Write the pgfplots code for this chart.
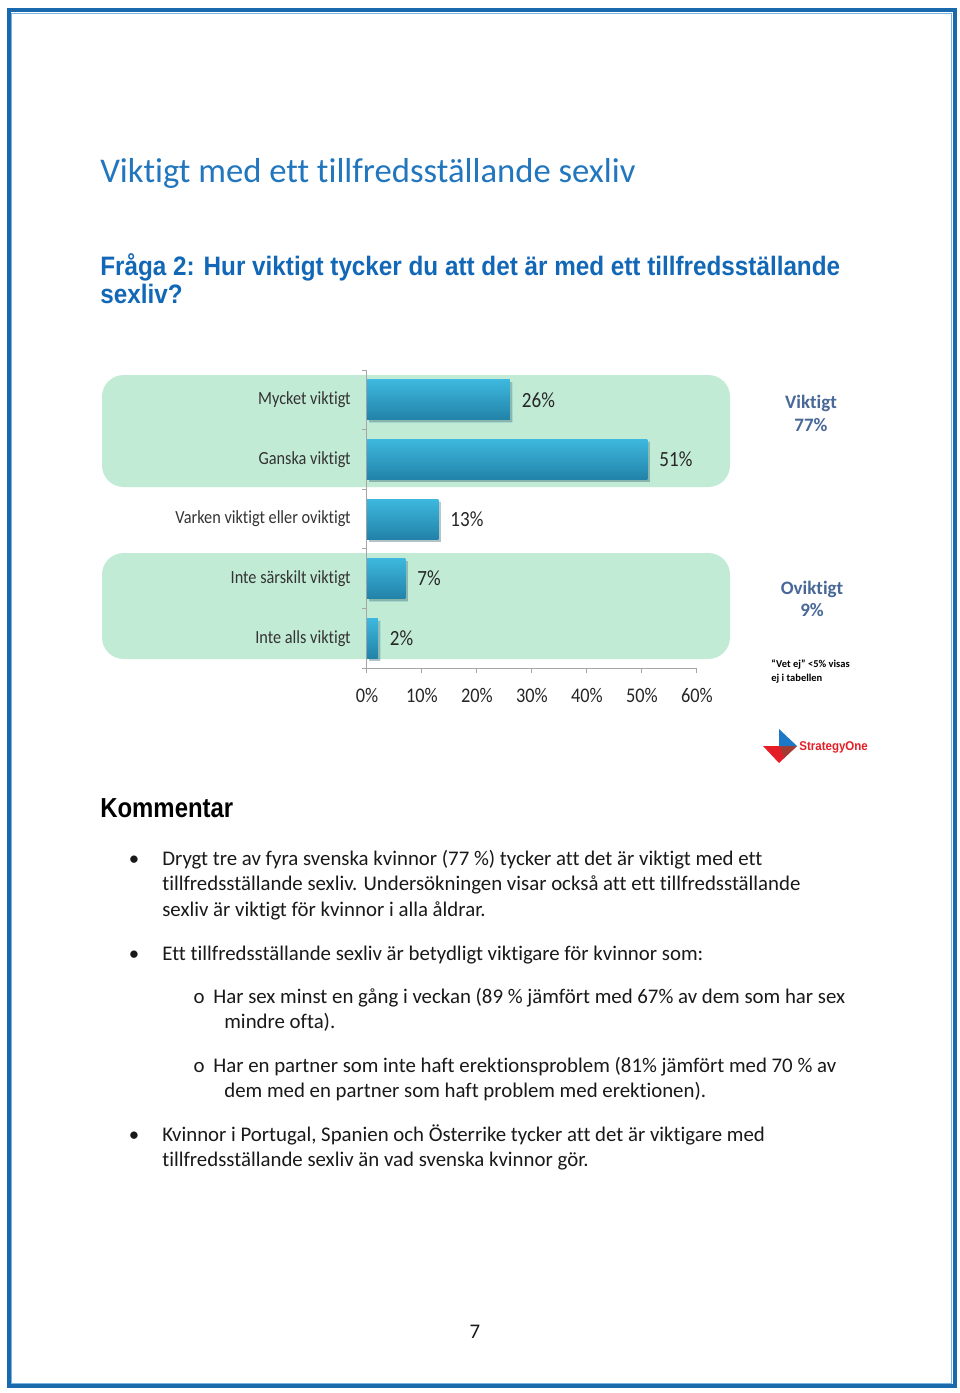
\documentclass[border=0pt]{standalone}
\usepackage{fontspec}
\setmainfont{Carlito}[Ligatures=NoCommon]
\newfontfamily\arialn[FakeStretch=0.91]{Liberation Sans}
\newfontfamily\arialk[FakeStretch=0.87]{Liberation Sans}
\newfontfamily\carn[FakeStretch=0.88,Ligatures=NoCommon]{Carlito}
\usepackage{pgfplots}
\usepackage{pgfplotstable}
\pgfplotsset{compat=1.18}
\definecolor{frame}{RGB}{24,106,172}
\definecolor{framelight}{RGB}{120,180,225}
\definecolor{titleblue}{RGB}{33,118,189}
\definecolor{qblue}{RGB}{18,104,182}
\definecolor{mint}{RGB}{194,235,214}
\definecolor{bartop}{RGB}{62,184,222}
\definecolor{barbot}{RGB}{34,130,168}
\definecolor{slate}{RGB}{72,104,152}
\definecolor{axgray}{RGB}{166,166,166}
\definecolor{logored}{RGB}{228,30,38}
\definecolor{logoblue}{RGB}{30,120,200}
\definecolor{logobrown}{RGB}{160,60,50}
\definecolor{bodytext}{RGB}{25,25,25}

\begin{document}
\begin{tikzpicture}
\begin{scope}[x=0.6pt,y=-0.6pt]
\fill[white] (0,0) rectangle (960,1393);
\draw[frame, line width=2.4pt] (8.5,10) rectangle (954.5,1386);
\draw[framelight, line width=0.6pt] (11.5,13) rectangle (951.5,1383);
% titles
\node[anchor=base west, inner sep=0, text=titleblue] at (100,182)
  {\fontsize{20.8}{24}\selectfont Viktigt med ett tillfredsställande sexliv};
\node[anchor=base west, inner sep=0, text=qblue] at (100,275)
  {\arialn\bfseries\fontsize{16}{19}\selectfont Fråga 2: Hur viktigt tycker du att det är med ett tillfredsställande};
\node[anchor=base west, inner sep=0, text=qblue] at (100,303)
  {\arialn\bfseries\fontsize{16}{19}\selectfont sexliv?};
% green group boxes
\fill[mint, rounded corners=13pt] (102,375) rectangle (730,487);
\fill[mint, rounded corners=13pt] (102,553) rectangle (730,659);
% right side annotations
\node[anchor=base, inner sep=0, text=slate] at (811,408) {\bfseries\fontsize{11.4}{13}\selectfont Viktigt};
\node[anchor=base, inner sep=0, text=slate] at (811,431) {\bfseries\fontsize{11.4}{13}\selectfont 77\%};
\node[anchor=base, inner sep=0, text=slate] at (812,594) {\bfseries\fontsize{11.4}{13}\selectfont Oviktigt};
\node[anchor=base, inner sep=0, text=slate] at (812,616) {\bfseries\fontsize{11.4}{13}\selectfont 9\%};
\node[anchor=base west, inner sep=0, text=black] at (771,667) {\bfseries\fontsize{6.3}{8}\selectfont “Vet ej” <5\% visas};
\node[anchor=base west, inner sep=0, text=black] at (771,681) {\bfseries\fontsize{6.3}{8}\selectfont ej i tabellen};
% logo
\fill[logored] (763,746) -- (797,746) -- (779,763) -- cycle;
\fill[logobrown] (780,746) -- (797,746) -- (784,758) -- cycle;
\fill[logoblue] (779,729) -- (797,746) -- (779,746) -- cycle;
\node[anchor=west, inner sep=0, text=logored] at (799,747) {\arialn\bfseries\fontsize{7.6}{9}\selectfont StrategyOne};
% Kommentar
\node[anchor=base west, inner sep=0, text=black] at (100,817)
  {\arialk\bfseries\fontsize{16.5}{19}\selectfont Kommentar};
% body
\begin{scope}[every node/.style={anchor=base west, inner sep=0, text=bodytext, font=\fontsize{12.5}{15}\selectfont}]
\node[anchor=base] at (134,865) {•};
\node at (162,865) {Drygt tre av fyra svenska kvinnor (77 \%) tycker att det är viktigt med ett};
\node at (162,890) {tillfredsställande sexliv. Undersökningen visar också att ett tillfredsställande};
\node at (162,916) {sexliv är viktigt för kvinnor i alla åldrar.};
\node[anchor=base] at (134,960) {•};
\node at (162,960) {Ett tillfredsställande sexliv är betydligt viktigare för kvinnor som:};
\node[anchor=base] at (199,1003) {o};
\node at (213,1003) {Har sex minst en gång i veckan (89 \% jämfört med 67\% av dem som har sex};
\node at (224,1028) {mindre ofta).};
\node[anchor=base] at (199,1072) {o};
\node at (213,1072) {Har en partner som inte haft erektionsproblem (81\% jämfört med 70 \% av};
\node at (224,1097) {dem med en partner som haft problem med erektionen).};
\node[anchor=base] at (134,1141) {•};
\node at (162,1141) {Kvinnor i Portugal, Spanien och Österrike tycker att det är viktigare med};
\node at (162,1166) {tillfredsställande sexliv än vad svenska kvinnor gör.};
\node[anchor=base] at (475,1338) {7};
\end{scope}
\end{scope}

\begin{axis}[
  at={(220.2pt,-400.8pt)}, anchor=south west,
  scale only axis, width=198pt, height=178.8pt,
  xmin=0, xmax=60, ymin=-0.5, ymax=4.5,
  /pgf/number format/assume math mode=true,
  axis x line*=bottom, axis y line*=left,
  axis line style={axgray, line width=0.6pt},
  tick style={axgray, line width=0.6pt},
  tick align=outside, major tick length=3pt,
  xtick={0,10,...,60},
  xticklabel={\pgfmathprintnumber{\tick}\%},
  xticklabel style={font=\carn\fontsize{12.5}{14}\selectfont, text=black!85, anchor=north, inner sep=0pt, yshift=-9pt},
  ytick={-0.5,0.5,1.5,2.5,3.5,4.5},
  yticklabels={},
  extra y ticks={0,1,2,3,4},
  extra y tick labels={Inte alls viktigt, Inte särskilt viktigt, Varken viktigt eller oviktigt, Ganska viktigt, Mycket viktigt},
  extra y tick style={major tick length=0pt, yticklabel style={font=\carn\fontsize{11.1}{13}\selectfont, text=black!80, anchor=east, inner sep=0pt, xshift=-9.6pt}},
  point meta=x,
  nodes near coords={\pgfmathprintnumber{\pgfplotspointmeta}\%},
  every node near coord/.append style={anchor=west, inner sep=0pt, xshift=7pt, font=\carn\fontsize{13}{15}\selectfont, text=black!85},
  clip=false,
  mybar/.style={xbar, bar width=24pt, bar shift=0pt, draw=none, mark=none,
     top color=bartop, bottom color=barbot,
     preaction={fill=black, opacity=0.18, transform canvas={xshift=1.5pt, yshift=-1.5pt}}},
]
\addplot[mybar] coordinates {(26,4)};
\addplot[mybar] coordinates {(51,3)};
\addplot[mybar] coordinates {(13,2)};
\addplot[mybar] coordinates {(7,1)};
\addplot[mybar] coordinates {(2,0)};
\end{axis}
\end{tikzpicture}
\end{document}
